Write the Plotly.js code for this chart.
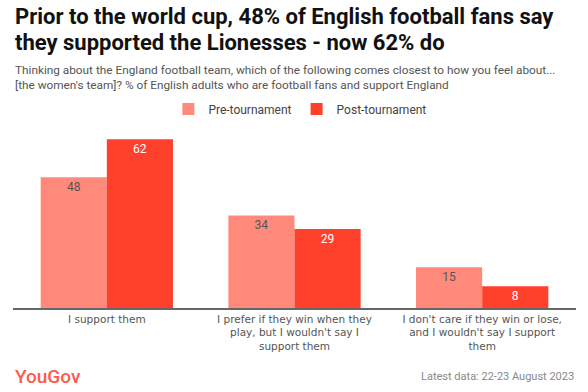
<!DOCTYPE html>
<html>
<head>
<meta charset="utf-8">
<script src="https://cdn.plot.ly/plotly-3.0.1.min.js"></script>
<style>html,body{margin:0;padding:0;background:#fff;}#chart{width:588px;height:392px;}</style>
</head>
<body>
<div id="chart"></div>
<script>
const categories = [
  "I support them",
  "I prefer if they win when they<br>play, but I wouldn't say I<br>support them",
  "I don't care if they win or lose,<br>and I wouldn't say I support<br>them"
];
const seriesNames = ["Pre-tournament", "Post-tournament"];
const preValues = [48, 34, 15];
const postValues = [62, 29, 8];

const titleLines = [
  "Prior to the world cup, 48% of English football fans say",
  "they supported the Lionesses - now 62% do"
];
const subtitle = "Thinking about the England football team, which of the following comes closest to how you feel about...<br>[the women's team]? % of English adults who are football fans and support England";

const PT = 131, PB = 308, PH = PB - PT;
const py = (pix) => (PB - pix) / PH;

const traces = [
  {
    type: 'bar', name: seriesNames[0], x: categories, y: preValues,
    marker: {color: '#ff8a7b'},
    text: preValues.map(String), textposition: 'inside', insidetextanchor: 'end',
    textfont: {family: 'Roboto', size: 12, color: '#555555'},
    hoverinfo: 'none'
  },
  {
    type: 'bar', name: seriesNames[1], x: categories, y: postValues,
    marker: {color: '#ff412c'},
    text: postValues.map(String), textposition: 'inside', insidetextanchor: 'end',
    textfont: {family: 'Roboto', size: 12, color: '#ffffff'},
    hoverinfo: 'none'
  }
];

const layout = {
  width: 588, height: 392,
  margin: {l: 13, r: 12, t: PT, b: 392 - PB},
  paper_bgcolor: '#ffffff', plot_bgcolor: '#ffffff',
  barmode: 'group', bargap: 0.295, bargroupgap: 0,
  font: {family: 'Roboto', color: '#555555'},
  xaxis: {
    showline: true, linecolor: '#666666', linewidth: 2,
    ticks: '', tickfont: {family: 'DejaVu Sans', size: 10.5, color: '#555555'},
    fixedrange: true
  },
  yaxis: {
    range: [0, 65], visible: false, showgrid: false, zeroline: false, fixedrange: true
  },
  legend: {
    orientation: 'h', x: 0.276, xanchor: 'left', y: py(109), yanchor: 'middle',
    font: {family: 'Roboto', size: 12, color: '#444444'},
    itemwidth: 30, itemclick: false, itemdoubleclick: false
  },
  showlegend: true,
  annotations: [
    {
      text: '<b>' + titleLines[0] + '</b>',
      xref: 'paper', yref: 'paper', x: 0, xanchor: 'left', y: py(17), yanchor: 'middle',
      align: 'left', showarrow: false,
      font: {family: 'Roboto', size: 22, color: '#111111', weight: 900}
    },
    {
      text: '<b>' + titleLines[1] + '</b>',
      xref: 'paper', yref: 'paper', x: 0, xanchor: 'left', y: py(43), yanchor: 'middle',
      align: 'left', showarrow: false,
      font: {family: 'Roboto', size: 22, color: '#111111', weight: 900}
    },
    {
      text: subtitle,
      xref: 'paper', yref: 'paper', x: 0, xanchor: 'left', y: py(77.5), yanchor: 'middle',
      align: 'left', showarrow: false,
      font: {family: 'Roboto', size: 11.8, color: '#555555'}
    },
    {
      text: 'YouGov', xref: 'paper', yref: 'paper', x: 0, xanchor: 'left',
      y: py(376.5), yanchor: 'middle', showarrow: false,
      font: {family: 'Roboto', size: 19, color: '#ff5a4a', weight: 500}
    },
    {
      text: 'Latest data: 22-23 August 2023', xref: 'paper', yref: 'paper', x: 1, xanchor: 'right',
      y: py(376.5), yanchor: 'middle', showarrow: false,
      font: {family: 'Roboto', size: 11, color: '#888888'}
    }
  ]
};

Plotly.newPlot('chart', traces, layout, {displayModeBar: false, staticPlot: true});
</script>
</body>
</html>
